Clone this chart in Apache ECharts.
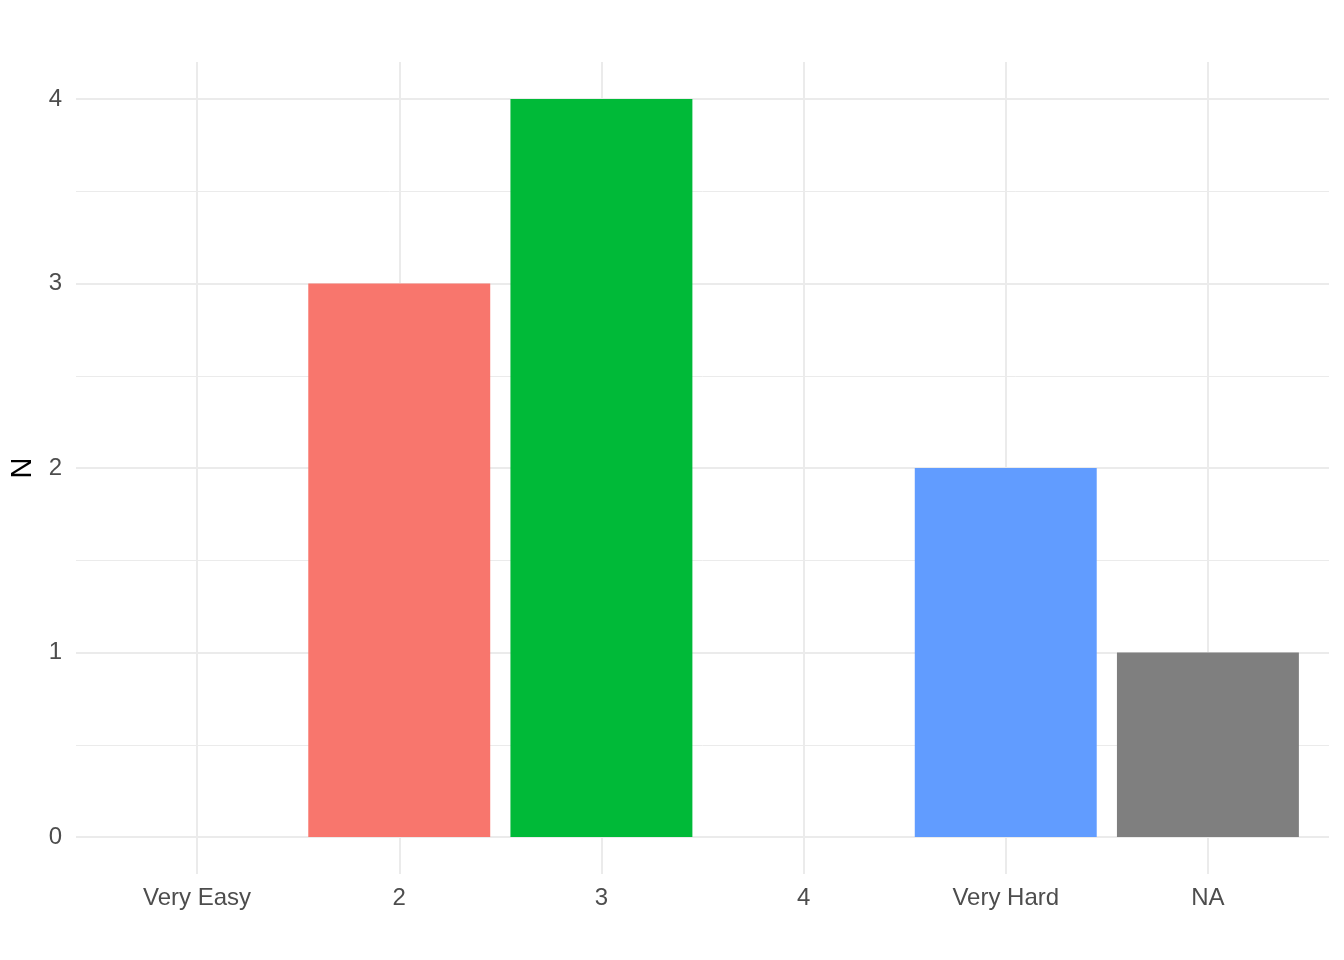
<!DOCTYPE html>
<html>
<head>
<meta charset="utf-8">
<script src="https://cdn.jsdelivr.net/npm/echarts@6/dist/echarts.min.js"></script>
<style>html,body{margin:0;padding:0;background:#fff;}#c{width:1344px;height:960px;}</style>
</head>
<body>
<div id="c"></div>
<script>
const categories = ['Very Easy', '2', '3', '4', 'Very Hard', 'NA'];
const counts = [null, 3, 4, null, 2, 1];
const barColors = ['#F8766D', '#F8766D', '#00BA38', '#619CFF', '#619CFF', '#7F7F7F'];
const yTicks = [0, 1, 2, 3, 4];

const chart = echarts.init(document.getElementById('c'));
const font = 'Liberation Sans, Arial, sans-serif';
const gb = {containLabel: false, outerBoundsMode: 'none'};
chart.setOption({
  animation: false,
  backgroundColor: '#fff',
  grid: [
    Object.assign({left: 76, right: 15, top: 99, bottom: 123}, gb),   // horizontal grid + y labels
    Object.assign({left: 96, right: 35, top: 99, bottom: 123}, gb),   // bars
    Object.assign({left: 96, right: 35, top: 62, bottom: 86}, gb)     // x labels + vertical grid
  ],
  xAxis: [
    {type: 'category', gridIndex: 0, data: categories, show: false},
    {type: 'category', gridIndex: 1, data: categories, show: false},
    {type: 'category', gridIndex: 2, data: categories,
     axisLine: {show: false},
     axisTick: {show: true, alignWithLabel: true, inside: true, length: 812, lineStyle: {color: '#EBEBEB', width: 2}},
     axisLabel: {color: '#4D4D4D', fontSize: 24, fontFamily: font, margin: 12},
     splitLine: {show: false}}
  ],
  yAxis: [
    {type: 'value', gridIndex: 0, min: yTicks[0], max: yTicks[yTicks.length - 1], interval: 1,
     name: 'N', nameLocation: 'middle', nameRotate: 90, nameGap: 36,
     nameTextStyle: {color: '#000', fontSize: 29, fontFamily: font},
     axisLine: {show: false}, axisTick: {show: false},
     axisLabel: {color: '#4D4D4D', fontSize: 24, fontFamily: font, margin: 14},
     splitLine: {show: true, lineStyle: {color: '#EBEBEB', width: 2}},
     minorTick: {show: false, splitNumber: 2},
     minorSplitLine: {show: true, lineStyle: {color: '#EBEBEB', width: 1}}},
    {type: 'value', gridIndex: 1, min: yTicks[0], max: yTicks[yTicks.length - 1], show: false},
    {type: 'value', gridIndex: 2, min: 0, max: 1, show: false}
  ],
  series: [{
    type: 'bar', xAxisIndex: 1, yAxisIndex: 1, barWidth: '90%', z: 5,
    data: counts.map((v, i) => ({value: v, itemStyle: {color: barColors[i]}}))
  }]
});
</script>
</body>
</html>
